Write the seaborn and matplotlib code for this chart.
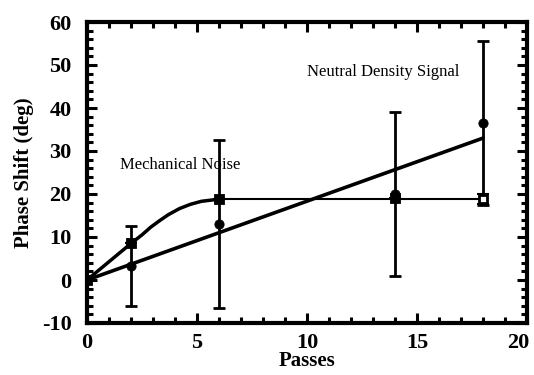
import matplotlib
matplotlib.use("Agg")
import matplotlib.pyplot as plt
import seaborn as sns
import numpy as np
import pandas as pd
from matplotlib.ticker import MultipleLocator, FixedLocator, FixedFormatter

# Data
passes = [0, 2, 6, 14, 18]
signal = [0, 3.3, 13.0, 20.0, 36.5]
signal_err = [0, 9.3, 19.5, 19.0, 19.0]
noise = [0, 8.5, 18.8, 19.0, 18.8]
noise_err = [0, 0, 0, 0, 1.2]
fit_x = [0, 18]
fit_y = [0, 33]
noise_curve_x = [0, 2, 2.5, 2.9, 3.3, 3.7, 4.2, 4.7, 5.2, 6, 14, 18]
noise_curve_y = [0, 8.5, 10.5, 12.3, 13.8, 15.2, 16.6, 17.6, 18.3, 18.8, 18.8, 18.8]
x_ticks = [0, 5, 10, 15, 20]
x_ticklabels = ["0", "5", "10", "15", "20"]

sns.set_style("ticks", {"axes.edgecolor": "black", "text.color": "black",
                        "xtick.color": "black", "ytick.color": "black",
                        "axes.labelcolor": "black"})
plt.rcParams['font.family'] = ['Liberation Serif', 'DejaVu Serif']
plt.rcParams['axes.unicode_minus'] = False

fig = plt.figure(figsize=(5.34, 3.75), dpi=100)
ax = fig.add_axes([87/534, 1 - 323/375, 440/534, 301/375])

df_sig = pd.DataFrame({"x": passes, "y": signal})
df_noise = pd.DataFrame({"x": passes, "y": noise})

# curves
sns.lineplot(x=noise_curve_x[:10], y=noise_curve_y[:10], ax=ax, color="black", lw=2.5, sort=False)
sns.lineplot(x=noise_curve_x[9:], y=noise_curve_y[9:], ax=ax, color="black", lw=1.5, sort=False)
sns.lineplot(x=fit_x, y=fit_y, ax=ax, color="black", lw=2.6)

# error bars
ax.errorbar(passes, signal, yerr=signal_err, fmt="none", ecolor="black", elinewidth=2, capsize=4, capthick=2)
ax.errorbar(passes, noise, yerr=noise_err, fmt="none", ecolor="black", elinewidth=1.5, capsize=4, capthick=1.5)

# markers
sns.scatterplot(data=df_sig, x="x", y="y", ax=ax, color="black", marker="o", s=45, edgecolor="black", zorder=5)
sns.scatterplot(data=df_noise.iloc[:4], x="x", y="y", ax=ax, color="black", marker="s", s=55, edgecolor="black", zorder=5)
ax.plot(passes[4], noise[4], marker="s", ms=6, mfc="white", mec="black", mew=2, zorder=6)

ax.set_xlim(0, 20)
ax.set_ylim(-10, 60)
ax.xaxis.set_major_locator(FixedLocator(x_ticks))
ax.xaxis.set_major_formatter(FixedFormatter(x_ticklabels[:-1] + [""]))
ax.xaxis.set_minor_locator(MultipleLocator(1))
ax.yaxis.set_major_locator(MultipleLocator(10))
ax.yaxis.set_minor_locator(MultipleLocator(2))
ax.tick_params(which="both", direction="in", top=True, right=True, width=2.2, color="black",
               labelcolor="black")
ax.tick_params(which="major", length=7, labelsize=16)
ax.tick_params(axis="x", which="major", pad=7)
ax.tick_params(axis="y", which="major", pad=11)
ax.tick_params(which="minor", length=4)
for lab in ax.get_xticklabels() + ax.get_yticklabels():
    lab.set_fontweight("bold")
for sp in ax.spines.values():
    sp.set_linewidth(3)
    sp.set_color("black")
    sp.set_visible(True)

# last x tick label, nudged left so it stays inside the figure
ax.annotate(x_ticklabels[-1], xy=(x_ticks[-1], 0), xycoords=("data", "axes fraction"),
            xytext=(-6, -7), textcoords="offset points", ha="center", va="top",
            fontsize=16, fontweight="bold", color="black")

ax.set_xlabel("Passes", fontsize=15, fontweight="bold", labelpad=-1, color="black")
ax.set_ylabel("Phase Shift (deg)", fontsize=15, fontweight="bold", labelpad=6, color="black")

ax.text(1.5, 26.7, "Mechanical Noise", fontsize=12, va="center", ha="left", color="black")
ax.text(10.0, 48.3, "Neutral Density Signal", fontsize=12, va="center", ha="left", color="black")

fig.savefig("out.png", dpi=100)
